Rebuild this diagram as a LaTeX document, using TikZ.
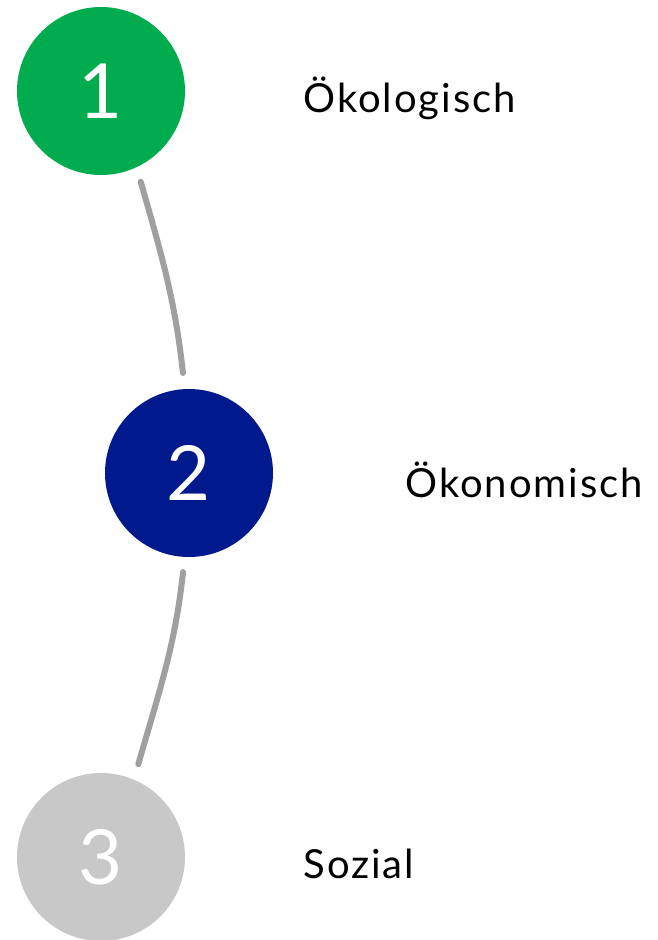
\documentclass[tikz,border=0pt]{standalone}
\usepackage{fontspec}
\setmainfont{Lato}
\usepackage{xcolor}
\usepackage{tikz}
\usetikzlibrary{positioning}

\definecolor{ecogreen}{HTML}{00AC4E}
\definecolor{econblue}{HTML}{001A8D}
\definecolor{socgray}{HTML}{C8C8C8}
\definecolor{linkgray}{HTML}{A0A0A0}

\begin{document}
\begin{tikzpicture}[x=1pt, y=-1pt,
    pillar/.style={circle, minimum size=168pt, inner sep=0pt, text=white, font=\fontsize{76}{80}\selectfont},
    label/.style={anchor=west, inner sep=0pt, yshift=-7pt, font=\fontsize{40}{44}\selectfont\addfontfeature{LetterSpace=5}},
    link/.style={line width=6pt, linkgray, line cap=round, shorten <=15pt, shorten >=16pt}]
    \useasboundingbox (0,0) rectangle (658,940);
    % Nodes
    \node[pillar, fill=ecogreen] (eco) at (101,91) {1};
    \node[pillar, fill=econblue] (econ) at (189,473) {2};
    \node[pillar, fill=socgray] (social) at (101,857) {3};
    \node[label, right=118pt of eco] (ecotext) {Ökologisch};
    \node[label, right=132pt of econ] (econtext) {Ökonomisch};
    \node[label, right=118pt of social] (socialtext) {Sozial};

    % Connections
    \draw[link] (eco.-65) to[out=-74, in=96] (econ.93);
    \draw[link] (econ.-93) to[out=-96, in=74] (social.67);
\end{tikzpicture}
\end{document}
